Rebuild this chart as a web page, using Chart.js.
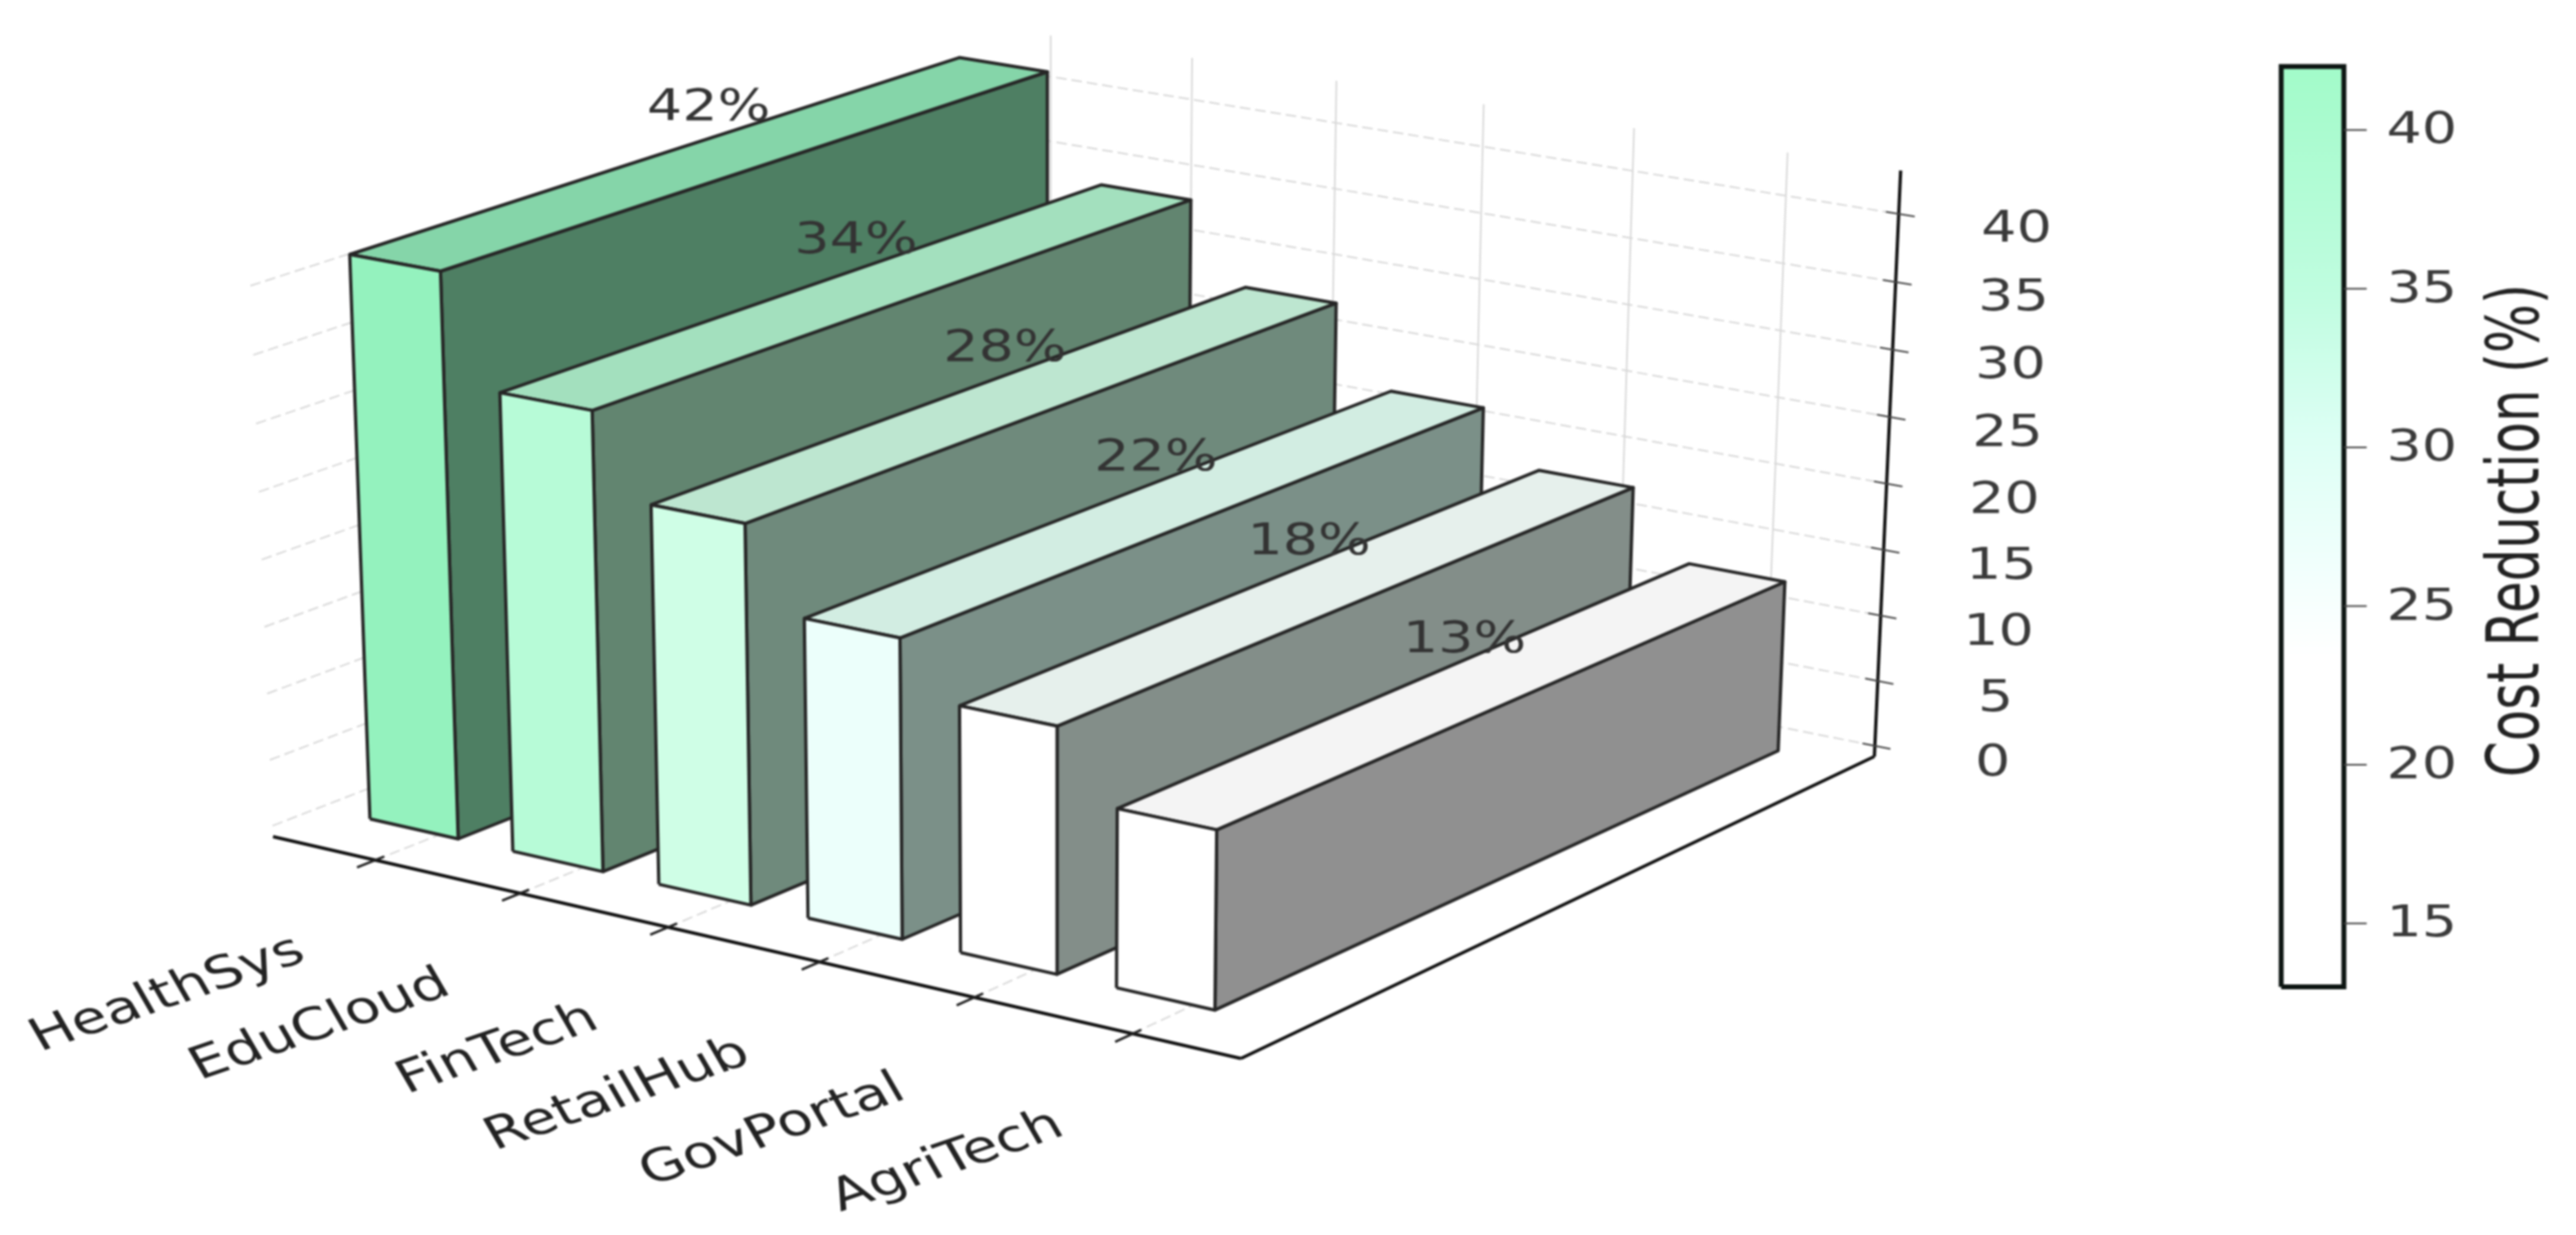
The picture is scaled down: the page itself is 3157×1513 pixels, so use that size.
<!DOCTYPE html>
<html>
<head>
<meta charset="utf-8">
<title>Cost Reduction</title>
<script src="https://cdn.jsdelivr.net/npm/chart.js@4/dist/chart.umd.js"></script>
<style>
  body { margin: 0; background: #fff; }
  canvas { display: block; filter: blur(1px); }
</style>
</head>
<body>
<canvas id="chart" width="3157" height="1513"></canvas>
<script>
const categories = ["HealthSys", "EduCloud", "FinTech", "RetailHub", "GovPortal", "AgriTech"];
const costReduction = [42, 34, 28, 22, 18, 13];
const zTicks = [0, 5, 10, 15, 20, 25, 30, 35, 40];
const colorbarTicks = [15, 20, 25, 30, 35, 40];

const frontColors = ["#94f2be", "#b7fbd7", "#cffee6", "#ecfffb", "#ffffff", "#ffffff"];
const topColors = ["#85d5a9", "#a3e0be", "#bde6d0", "#d2ede2", "#e6f0ec", "#f4f4f4"];
const sideColors = ["#4e7f63", "#628570", "#6f8a7c", "#7b9088", "#838e89", "#909090"];
const EDGE = "#262626";
const GRID = "#d8d8d8";

// box limits of the 3D axes: u = category, v = depth 0..1, w = value
const U_MIN = -0.72, U_MAX = 5.67, U_MAX_BACK = 5.62, W_FLOOR = 0.07, W_TOP = 44.07;
const BAR_LEFT = -0.5, BAR_RIGHT = 0.12, BAR_FRONT = 0.09, BAR_BACK = 0.968;
// the wall grid and value ticks sit a little above the bar base
const TICK_LIFT = 0.9;
// category spacing on the back wall is a bit tighter than the camera gives
const BACK_SPACING = 0.982;

// camera fitted on the picture
const project = (u, v, w) => {
    const d = 1 - 0.0108 * u + 0.0877 * v - 0.00071 * w;
    return {
        x: (458 + 171 * u + 941.5 * v - 0.9017 * w) / d,
        y: (1056 + 29 * u - 265.3 * v - 16.97 * w) / d,
    };
};

const datasets = [];

const addLine = (points, color, width, dash) => {
    datasets.push({
        data: points,
        showLine: true,
        fill: false,
        borderColor: color,
        borderWidth: width,
        borderDash: dash || [],
        pointRadius: 0,
    });
};

const addFace = (points, color) => {
    datasets.push({
        data: [...points, points[0]],
        showLine: true,
        fill: "shape",
        backgroundColor: color,
        borderColor: EDGE,
        borderWidth: 4,
        borderJoinStyle: "round",
        pointRadius: 0,
    });
};

// grid on the walls and the floor
const DASH = [13, 6];
zTicks.forEach((w) => {
    const lifted = w + TICK_LIFT;
    addLine([project(U_MIN, 0, lifted), project(U_MIN, 1, lifted)], GRID, 2, DASH);
    addLine([project(U_MIN, 1, lifted), project(U_MAX_BACK, 1, lifted)], GRID, 2, DASH);
});
categories.forEach((name, i) => {
    const backU = i * BACK_SPACING;
    addLine([project(backU, 1, W_FLOOR), project(backU, 1, W_TOP)], GRID, 2);
    addLine([project(i, 0, W_FLOOR), project(backU, 1, W_FLOOR)], GRID, 2, DASH);
});

// axis lines and ticks
addLine([project(U_MIN, 0, W_FLOOR), project(U_MAX, 0, W_FLOOR)], "#111", 4);
addLine([project(U_MAX, 0, W_FLOOR), project(U_MAX_BACK, 1, W_FLOOR)], "#111", 4);
addLine([project(U_MAX_BACK, 1, W_FLOOR), project(U_MAX_BACK, 1, W_TOP)], "#111", 4);
zTicks.forEach((w) => {
    const lifted = w + TICK_LIFT;
    addLine([project(U_MAX_BACK - 0.08, 1, lifted), project(U_MAX_BACK + 0.1, 1, lifted)], "#444", 2);
});
categories.forEach((name, i) => {
    addLine([project(i, -0.025, W_FLOOR), project(i, 0.012, W_FLOOR)], "#222", 3);
});

// bars, back to front
costReduction.forEach((value, i) => {
    const left = i + BAR_LEFT;
    const right = i + BAR_RIGHT;
    addFace([
        project(right, BAR_FRONT, 0), project(right, BAR_BACK, 0),
        project(right, BAR_BACK, value), project(right, BAR_FRONT, value),
    ], sideColors[i]);
    addFace([
        project(left, BAR_FRONT, value), project(right, BAR_FRONT, value),
        project(right, BAR_BACK, value), project(left, BAR_BACK, value),
    ], topColors[i]);
    addFace([
        project(left, BAR_FRONT, 0), project(right, BAR_FRONT, 0),
        project(right, BAR_FRONT, value), project(left, BAR_FRONT, value),
    ], frontColors[i]);
});

// colorbar on its own value scale
const CB_LEFT = 2798, CB_RIGHT = 2875;
const cbMin = Math.min(...costReduction);
const cbMax = Math.max(...costReduction);

const colorbarBox = {
    data: [
        { x: CB_LEFT, y: cbMin }, { x: CB_RIGHT, y: cbMin },
        { x: CB_RIGHT, y: cbMax }, { x: CB_LEFT, y: cbMax }, { x: CB_LEFT, y: cbMin },
    ],
    yAxisID: "cb",
    showLine: true,
    fill: "shape",
    backgroundColor: "#ffffff",
    borderColor: "#0d1512",
    borderWidth: 6,
    pointRadius: 0,
};
datasets.push(colorbarBox);
colorbarTicks.forEach((t) => {
    datasets.push({
        data: [{ x: CB_RIGHT, y: t }, { x: CB_RIGHT + 28, y: t }],
        yAxisID: "cb",
        showLine: true,
        fill: false,
        borderColor: "#444",
        borderWidth: 2,
        pointRadius: 0,
    });
});

// first dataset pushed is painted first
datasets.forEach((ds, i) => { ds.order = datasets.length - i; });

const drawText = (ctx, text, x, y, opts) => {
    ctx.save();
    ctx.translate(x, y);
    ctx.scale(opts.stretch, 1);
    ctx.rotate(opts.angle || 0);
    ctx.font = `${opts.size}px "DejaVu Sans"`;
    ctx.fillStyle = opts.color;
    ctx.textAlign = opts.align || "center";
    ctx.textBaseline = "middle";
    ctx.fillText(text, 0, 0);
    ctx.restore();
};

const textPlugin = {
    id: "chartText",
    afterDatasetsDraw(chart) {
        const ctx = chart.ctx;
        const tickFont = { size: 54, stretch: 1.26, color: "#3a3a3a" };

        costReduction.forEach((value, i) => {
            const p = project(i + (BAR_LEFT + BAR_RIGHT) / 2, (BAR_FRONT + BAR_BACK) / 2, value + 3.7);
            drawText(ctx, `${value}%`, p.x, p.y, { ...tickFont, color: "#333" });
        });

        zTicks.forEach((w) => {
            const p = project(U_MAX_BACK, 1, w + TICK_LIFT);
            drawText(ctx, String(w), p.x + 143, p.y + 22, tickFont);
        });

        categories.forEach((name, i) => {
            const p = project(i, 0, W_FLOOR);
            drawText(ctx, name, p.x - 88, p.y + 108, {
                size: 55, stretch: 1.3, angle: -24 * Math.PI / 180, align: "right", color: "#222",
            });
        });

        colorbarTicks.forEach((t) => {
            drawText(ctx, String(t), 2968, chart.scales.cb.getPixelForValue(t) + 2, tickFont);
        });

        drawText(ctx, "Cost Reduction (%)", 3088, 650, {
            size: 63, stretch: 1.4, angle: -Math.PI / 2, color: "#222",
        });
    },
};

const chart = new Chart(document.getElementById("chart"), {
    type: "scatter",
    data: { datasets },
    plugins: [textPlugin],
    options: {
        responsive: false,
        animation: false,
        layout: { padding: 0 },
        plugins: { legend: { display: false }, tooltip: { enabled: false } },
        scales: {
            x: { type: "linear", min: 0, max: 3157, display: false },
            y: { type: "linear", min: 0, max: 1513, reverse: true, display: false },
            cb: { type: "linear", min: 5.26, max: 44.02, display: false },
        },
    },
});

// the gradient needs the laid out colorbar scale
const cbScale = chart.scales.cb;
const gradient = chart.ctx.createLinearGradient(0, cbScale.getPixelForValue(cbMax), 0, cbScale.getPixelForValue(cbMin));
gradient.addColorStop(0, "#a2fbc9");
gradient.addColorStop(0.25, "#c0fde0");
gradient.addColorStop(0.4, "#dcfff4");
gradient.addColorStop(0.55, "#f2fffd");
gradient.addColorStop(0.64, "#ffffff");
gradient.addColorStop(1, "#ffffff");
colorbarBox.backgroundColor = gradient;
chart.update();
</script>
</body>
</html>
